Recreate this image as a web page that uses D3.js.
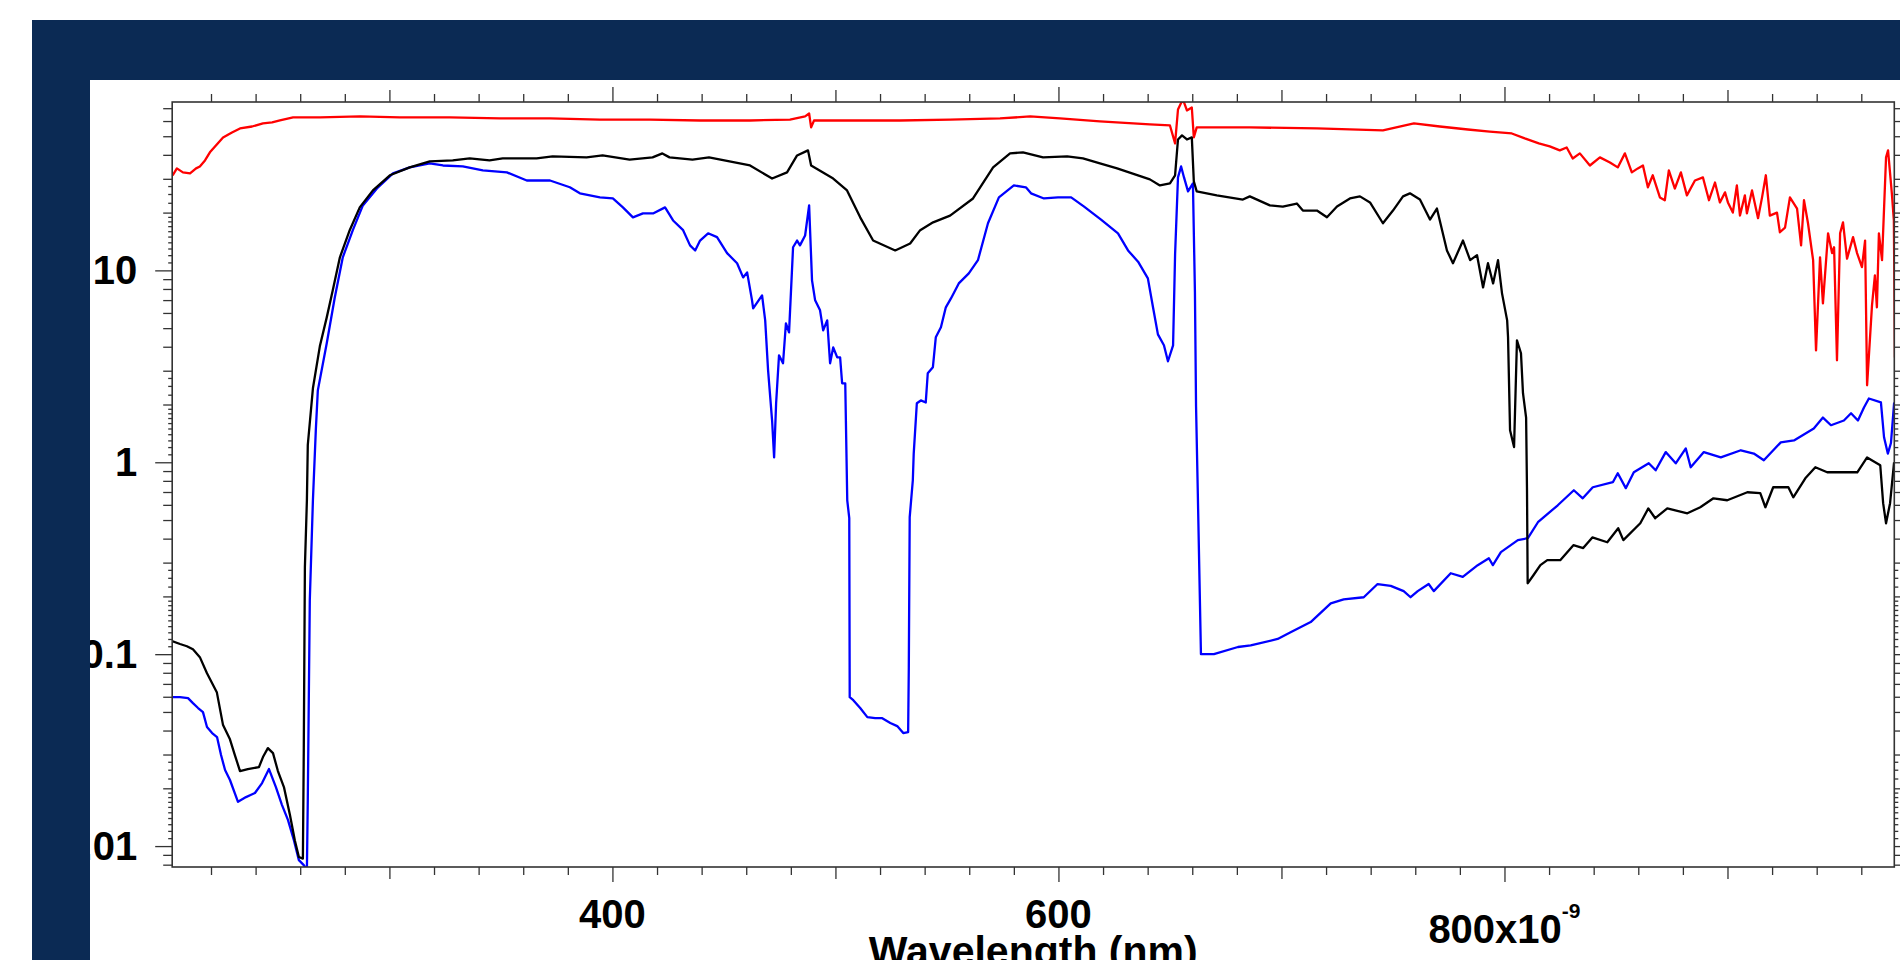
<!DOCTYPE html>
<html>
<head>
<meta charset="utf-8">
<script src="https://cdn.jsdelivr.net/npm/d3@7"></script>
<style>
  body { margin: 0; background: #fff; }
  svg { display: block; }
</style>
</head>
<body>
<svg id="chart" width="1900" height="960"></svg>
<script>
/* Spectra on a log axis, wavelength in nm */

// red trace
const redNm = [202.8,204.7,207.4,210.6,213.3,215.0,217.3,219.5,222.2,225.4,229.4,233.0,238.4,243.3,247.4,250.9,256.8,268.9,286.8,304.7,
  327.1,349.6,372.0,394.4,416.8,439.3,461.7,479.6,486.4,488.2,489.1,490.4,506.5,528.9,551.4,573.8,587.3,600.7,618.6,641.0,
  650.0,652.3,653.6,655.8,657.6,659.8,660.7,662.0,685.8,715.9,745.5,759.4,771.0,783.6,793.4,803.3,809.1,815.4,820.3,824.8,
  827.9,830.6,833.8,838.3,842.8,847.3,850.8,854.0,857.1,859.8,862.1,864.3,866.5,869.7,871.9,873.7,876.4,879.1,881.8,885.4,
  889.0,891.7,894.4,896.6,898.9,900.2,902.4,904.2,905.6,907.8,908.7,911.0,913.7,915.5,917.2,919.0,922.2,923.5,925.8,928.0,
  931.2,933.0,934.3,936.1,938.4,939.7,941.5,942.8,945.1,946.9,947.8,949.1,950.5,951.8,953.6,956.3,958.1,960.3,961.7,962.6,
  964.8,966.1,967.0,967.9,969.3,971.1,972.0,973.7,974.6,975.1];
const redVal = [31.3,34.0,32.4,32.0,34.0,34.8,37.4,41.2,44.8,49.3,52.3,54.9,56.2,58.3,59.0,60.4,62.7,62.7,63.4,62.7,
  62.7,61.9,61.9,61.1,61.1,60.4,60.4,61.1,63.4,65.7,55.6,60.4,60.4,60.4,61.1,61.9,63.4,61.9,59.7,57.6,
  56.9,45.9,68.9,78,68.1,70.6,49.3,55.6,55.6,54.9,53.6,58.3,56.2,54.2,52.9,51.7,48.7,45.9,44.3,42.2,
  43.7,38.3,40.7,35.2,38.8,36.5,34.4,40.7,32.4,34.0,35.2,27.1,31.3,24.0,23.2,33.2,26.7,32.4,24.6,29.4,
  30.5,23.2,28.7,22.6,25.5,22.6,20.0,27.7,19.3,24.6,19.8,26.1,18.7,24.0,31.3,19.3,20.0,15.8,16.7,24.0,
  21.0,13.5,23.2,17.6,11.3,3.83,11.7,6.73,15.6,12.3,13.2,3.40,15.6,17.8,11.5,14.9,12.3,10.4,14.3,2.52,
  6.57,9.42,6.42,15.6,11.3,38.8,42.2,25.2,18.2,3.52];

// black trace
const blackNm = [202.5,206.1,209.2,211.9,215.0,218.2,222.6,225.4,228.5,230.7,233.0,236.5,241.5,243.3,245.5,247.8,250.0,252.7,255.4,257.6,
  259.4,261.2,261.6,262.1,263.0,263.4,265.7,268.8,271.9,274.6,277.8,282.2,286.7,292.6,300.2,309.1,318.1,328.4,336.0,344.9,
  350.8,366.0,373.2,388.4,395.6,407.7,418.0,422.4,425.6,435.9,443.3,461.7,471.6,478.3,482.8,487.7,489.1,499.0,505.2,511.1,
  516.9,526.8,533.5,538.0,543.8,551.4,561.7,570.7,578.3,584.1,593.1,603.9,611.0,618.6,626.3,641.0,645.5,650.0,652.3,653.6,
  655.4,657.6,659.8,660.7,662.0,671.0,682.7,685.8,694.8,700.6,706.9,709.6,715.9,720.4,724.9,730.7,735.2,739.7,745.5,750.0,
  754.5,757.6,762.1,766.6,769.7,774.2,776.9,781.4,784.6,787.7,790.4,792.6,794.9,797.1,798.9,801.2,801.6,802.5,804.3,805.6,
  807.4,808.3,809.7,810.1,810.4,812.9,816.1,819.2,825.0,830.9,835.3,839.4,846.1,851.0,853.3,860.9,864.5,867.6,873.0,882.0,
  887.8,893.7,899.9,908.9,914.7,917.0,920.5,927.3,929.5,934.9,939.4,944.7,949.2,958.2,962.6,968.5,969.8,971.1,972.9,974.7];
const blackVal = [0.117,0.113,0.110,0.106,0.0965,0.0796,0.0634,0.0427,0.0360,0.0298,0.0246,0.0252,0.0258,0.0291,0.0324,0.0305,0.0246,0.0203,0.0145,0.0107,
  0.00877,0.0086,0.0316,0.284,0.634,1.23,2.43,4.02,5.69,7.87,11.7,16.2,21.3,26.1,31.3,34.4,37.0,37.4,38.3,37.4,
  38.3,38.3,39.3,38.8,39.7,37.8,38.8,40.7,38.8,37.8,38.8,35.2,30.1,32.4,39.7,42.2,35.2,30.1,26.1,18.9,
  14.3,12.7,13.8,16.2,17.8,19.3,23.7,34.4,40.7,41.2,38.8,39.3,38.3,36.1,34.0,29.8,27.7,28.4,31.3,48.1,
  50.5,48.1,49.3,29.1,25.8,24.6,23.4,24.3,21.8,21.5,22.3,20.5,20.5,18.9,21.5,23.7,24.3,22.6,17.6,20.5,
  24.3,25.2,23.4,18.4,21.0,12.7,10.9,14.3,11.3,12.0,8.15,10.9,8.55,11.3,7.59,5.49,4.48,1.47,1.20,4.32,
  3.70,2.29,1.71,0.715,0.234,0.257,0.291,0.309,0.309,0.370,0.357,0.406,0.383,0.453,0.393,0.481,0.575,0.511,0.575,0.542,
  0.583,0.649,0.634,0.698,0.690,0.583,0.741,0.741,0.657,0.825,0.942,0.887,0.887,0.887,1.06,0.965,0.612,0.481,0.612,1.0];

// blue trace
const blueNm = [202.5,206.1,209.7,211.9,214.2,216.4,218.2,220.5,222.7,224.5,226.3,228.5,232.1,235.7,237.5,239.7,242.9,246.0,249.1,251.8,
  254.5,257.2,259.4,261.6,263.0,263.4,264.3,265.7,267.0,267.9,271.9,275.5,279.1,283.6,288.1,294.4,301.6,309.1,318.1,324.0,
  332.9,341.9,352.7,361.6,372.0,380.9,385.4,394.4,400.2,404.7,409.2,413.7,418.2,423.6,427.2,431.7,434.8,437.1,439.3,442.9,
  446.9,451.4,455.9,458.6,460.4,462.6,463.1,467.1,468.5,469.8,471.6,472.5,473.4,474.7,476.5,477.8,479.2,481.0,482.8,484.1,
  486.4,488.2,489.5,490.9,493.1,494.5,496.3,497.6,499.0,500.8,502.1,503.0,504.4,505.3,506.2,506.4,508.0,511.1,514.3,517.8,
  521.0,524.6,527.7,530.4,532.6,532.9,533.3,534.7,535.1,536.5,538.3,540.5,541.4,543.7,545.0,547.3,549.5,551.8,555.3,559.8,
  563.9,568.4,573.3,580.0,585.4,587.7,593.5,599.8,605.7,611.5,619.1,626.7,631.2,635.7,640.1,642.4,644.6,647.3,649.1,651.4,
  652.3,653.6,655.0,656.3,658.1,660.3,661.2,661.7,662.5,663.9,669.7,680.5,686.2,698.3,704.1,713.1,722.1,727.9,736.9,743.1,
  749.0,754.8,757.9,761.1,766.0,768.3,775.9,781.3,788.0,793.0,794.8,798.4,806.0,810.5,815.0,823.9,831.1,835.1,839.6,848.6,
  850.8,854.4,858.0,864.7,867.8,872.3,876.8,881.3,883.5,889.4,897.0,906.0,911.8,916.3,923.9,929.8,938.7,942.8,946.4,952.2,
  955.4,958.5,961.2,963.4,968.8,970.2,971.9,973.3,974.7,976.4];
const blueVal = [0.0597,0.0597,0.059,0.0556,0.0524,0.0499,0.0417,0.0388,0.0370,0.0298,0.0249,0.0221,0.0170,0.0180,0.0184,0.0189,0.0213,0.0252,0.0203,0.0164,
  0.0137,0.0107,0.00845,0.00796,0.0075,0.0174,0.191,0.634,1.47,2.37,4.17,7.22,11.7,16.2,21.8,26.7,32.0,34.4,36.1,35.2,
  34.8,33.2,32.4,29.4,29.4,27.1,25.2,24.0,23.7,21.3,18.9,19.8,19.8,21.3,18.2,16.2,13.5,12.7,14.3,15.6,
  14.9,12.3,10.9,9.19,9.76,6.98,6.34,7.41,5.49,3.01,1.65,1.06,2.03,3.61,3.28,5.30,4.75,13.2,14.3,13.5,
  15.2,21.8,8.87,6.98,6.19,4.87,5.49,3.28,3.97,3.52,3.52,2.58,2.58,0.634,0.511,0.0597,0.0576,0.0524,0.0470,0.0464,
  0.0464,0.0438,0.0422,0.0388,0.0393,0.0855,0.518,0.806,1.11,2.03,2.10,2.05,2.91,3.13,4.48,5.05,6.42,7.14,8.55,9.65,
  11.3,17.6,24.0,27.7,27.1,25.2,23.7,24.0,24.0,21.5,18.4,15.6,12.7,11.1,9.08,6.42,4.64,4.07,3.36,4.07,
  12.1,30.5,34.8,30.5,25.8,28.4,7.68,1.96,0.681,0.1,0.1,0.109,0.111,0.120,0.130,0.147,0.184,0.193,0.198,0.232,
  0.227,0.213,0.198,0.213,0.232,0.213,0.264,0.253,0.291,0.316,0.291,0.340,0.393,0.402,0.487,0.597,0.715,0.649,0.741,0.787,
  0.877,0.733,0.887,0.988,0.908,1.13,0.988,1.18,0.942,1.13,1.06,1.155,1.11,1.024,1.27,1.30,1.50,1.71,1.56,1.65,
  1.80,1.65,1.93,2.15,2.05,1.35,1.11,1.26,2.03,2.05];

// axis labels
const xLabelVals = [400, 600];
const xLabels = ["400", "600"];
const yLabelVals = [0.01, 0.1, 1, 10];
const yLabels = ["0.01", "0.1", "1", "10"];

//* Page frame *//
const W = 1900, H = 960;
const svg = d3.select("#chart");
svg.append("rect").attr("x", 32).attr("y", 20).attr("width", W - 32).attr("height", H - 20).attr("fill", "#0b2a54");
svg.append("rect").attr("x", 90).attr("y", 80).attr("width", W - 90).attr("height", H - 80).attr("fill", "#fff");

const defs = svg.append("defs");
defs.append("clipPath").attr("id", "panel").append("rect")
    .attr("x", 90).attr("y", 80).attr("width", W - 90).attr("height", H - 80);

const plotL = 172.2, plotR = 1894.3, plotT = 102, plotB = 867;
defs.append("clipPath").attr("id", "plot").append("rect")
    .attr("x", plotL).attr("y", plotT).attr("width", plotR - plotL).attr("height", plotB - plotT);

const x = d3.scaleLinear().domain([202.6, 974.8]).range([plotL, plotR]);
const y = d3.scaleLog().domain([0.00778, 75.4]).range([plotB, plotT]);

const g = svg.append("g").attr("clip-path", "url(#panel)");

//* Ticks *//
const xMinor = d3.range(220, 975, 20).filter(function(v) { return v % 100 !== 0; });
const xMid = [300, 500, 700, 900];
const xMajor = [400, 600, 800];

const yMajor = [], yMid = [], ySmall = [];
[-3, -2, -1, 0, 1].forEach(function(k) {
  const p = Math.pow(10, k);
  yMajor.push(p);
  d3.range(2, 10).forEach(function(m) { yMid.push(m * p); });
  [1.1, 1.2, 1.3, 1.4, 1.5, 1.6, 1.7, 1.8, 1.9, 2.25, 2.5, 2.75].forEach(function(m) { ySmall.push(m * p); });
});
const inY = function(v) { return v >= 0.00778 && v <= 75.4; };

function tickSet(axis, vals, size, tx, ty) {
  const a = g.append("g")
      .attr("transform", "translate(" + tx + "," + ty + ")")
      .call(axis.tickValues(vals).tickSize(size).tickFormat(""));
  a.select(".domain").remove();
  a.selectAll("line").attr("stroke", "#333").attr("stroke-width", 1.3);
}

[[xMinor, 8], [xMid, 12], [xMajor, 15]].forEach(function(s) {
  tickSet(d3.axisBottom(x), s[0], s[1], 0, plotB);
  tickSet(d3.axisTop(x), s[0], s[1], 0, plotT);
});
[[ySmall.filter(inY), 4], [yMid.filter(inY), 9], [yMajor.filter(inY), 17]].forEach(function(s) {
  tickSet(d3.axisLeft(y), s[0], s[1], plotL, 0);
  tickSet(d3.axisRight(y), s[0], s[1], plotR, 0);
});

//* Traces *//
const line = d3.line()
    .x(function(d) { return x(d[0]); })
    .y(function(d) { return y(d[1]); });

const traces = [
  {nm: redNm, val: redVal, color: "#ff0000"},
  {nm: blueNm, val: blueVal, color: "#0000ff"},
  {nm: blackNm, val: blackVal, color: "#000000"}
];

const plot = g.append("g").attr("clip-path", "url(#plot)");
traces.forEach(function(t) {
  plot.append("path")
      .datum(d3.zip(t.nm, t.val))
      .attr("fill", "none")
      .attr("stroke", t.color)
      .attr("stroke-width", 2.3)
      .attr("stroke-linejoin", "round")
      .attr("d", line);
});

// frame
g.append("rect")
    .attr("x", plotL).attr("y", plotT)
    .attr("width", plotR - plotL).attr("height", plotB - plotT)
    .attr("fill", "none").attr("stroke", "#333").attr("stroke-width", 1.6);

//* Labels *//
const font = "'Liberation Sans', Arial, sans-serif";

g.selectAll(".xlab")
    .data(xLabelVals)
    .enter().append("text")
    .attr("x", function(d) { return x(d); })
    .attr("y", 928)
    .attr("text-anchor", "middle")
    .attr("font-family", font).attr("font-weight", "bold").attr("font-size", "40px")
    .text(function(d, i) { return xLabels[i]; });

const t800 = g.append("text")
    .attr("x", x(800)).attr("y", 943)
    .attr("text-anchor", "middle")
    .attr("font-family", font).attr("font-weight", "bold").attr("font-size", "40px");
t800.append("tspan").text("800x10");
t800.append("tspan").attr("dy", -25).attr("font-size", "21px").text("-9");

g.selectAll(".ylab")
    .data(yLabelVals)
    .enter().append("text")
    .attr("x", plotL - 35)
    .attr("y", function(d) { return y(d); })
    .attr("dy", "0.35em")
    .attr("text-anchor", "end")
    .attr("font-family", font).attr("font-weight", "bold").attr("font-size", "40px")
    .text(function(d, i) { return yLabels[i]; });

g.append("text")
    .attr("x", (plotL + plotR) / 2)
    .attr("y", 965)
    .attr("text-anchor", "middle")
    .attr("font-family", font).attr("font-weight", "bold").attr("font-size", "41px")
    .text("Wavelength (nm)");
</script>
</body>
</html>
